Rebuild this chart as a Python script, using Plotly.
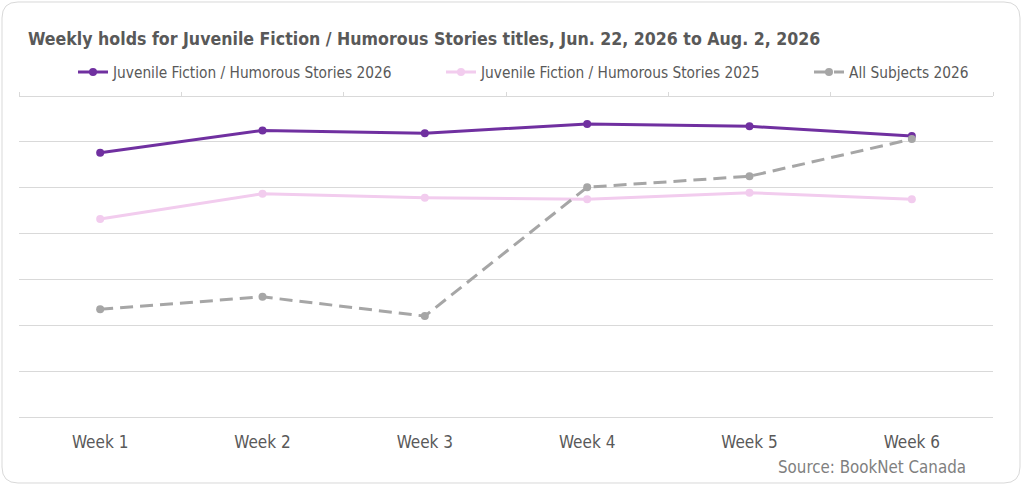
import plotly.graph_objects as go

weeks = ["Week 1", "Week 2", "Week 3", "Week 4", "Week 5", "Week 6"]
humorous_2026 = [5.76, 6.25, 6.19, 6.39, 6.34, 6.13]
humorous_2025 = [4.32, 4.87, 4.78, 4.75, 4.89, 4.75]
all_subjects_2026 = [2.35, 2.62, 2.20, 5.01, 5.25, 6.06]

W, H = 1024, 486
UNIT = 321 / 7          # px per gridline step
PAD = 2                 # keep edge gridlines from being clipped
ML, MR, MT, MB = 19, 31, 96 - PAD, 69 - PAD
PW, PH = W - ML - MR, H - MT - MB
YPAD = PAD / UNIT

FONT = "Liberation Sans Narrow, DejaVu Sans Condensed, Roboto, sans-serif"
TXT = "#595959"
GRID = "#D9D9D9"


def px(x, y):
    # pixel -> paper coordinates
    return (x - ML) / PW, (H - MB - y) / PH


def rounded_box(x0, y0, x1, y1, r):
    pts = [
        ("M", x0 + r, y0), ("L", x1 - r, y0), ("Q", x1, y0, x1, y0 + r),
        ("L", x1, y1 - r), ("Q", x1, y1, x1 - r, y1), ("L", x0 + r, y1),
        ("Q", x0, y1, x0, y1 - r), ("L", x0, y0 + r), ("Q", x0, y0, x0 + r, y0),
    ]
    out = []
    for p in pts:
        cmd, vals = p[0], p[1:]
        coords = []
        for i in range(0, len(vals), 2):
            a, b = px(vals[i], vals[i + 1])
            coords.append(f"{a:.5f},{b:.5f}")
        out.append(cmd + " ".join(coords))
    return " ".join(out) + " Z"


def legend_at(x_px):
    return dict(
        orientation="h", x=px(x_px, 0)[0], xanchor="left",
        y=px(0, 72)[1], yanchor="middle",
        font=dict(family=FONT, size=15.3, color=TXT),
        bgcolor="rgba(0,0,0,0)",
    )


fig = go.Figure()

fig.add_trace(go.Scatter(
    x=weeks, y=humorous_2026, mode="lines+markers",
    name="Juvenile Fiction / Humorous Stories 2026", legend="legend",
    line=dict(color="#7030A0", width=3), marker=dict(size=8, color="#7030A0"),
))
fig.add_trace(go.Scatter(
    x=weeks, y=humorous_2025, mode="lines+markers",
    name="Juvenile Fiction / Humorous Stories 2025", legend="legend2",
    line=dict(color="#F2CCEE", width=3), marker=dict(size=8, color="#F2CCEE"),
))
fig.add_trace(go.Scatter(
    x=weeks, y=all_subjects_2026, mode="lines+markers",
    name="All Subjects 2026", legend="legend3",
    line=dict(color="#A6A6A6", width=3, dash="13px,7px"), marker=dict(size=8, color="#A6A6A6"),
))
# empty trace so the top category-boundary axis gets drawn
fig.add_trace(go.Scatter(x=[], y=[], xaxis="x2", showlegend=False, hoverinfo="skip"))

fig.update_layout(
    width=W, height=H,
    margin=dict(l=ML, r=MR, t=MT, b=MB),
    paper_bgcolor="white", plot_bgcolor="white",
    font=dict(family=FONT, color=TXT, size=16),
    title=dict(
        text="<b>Weekly holds for Juvenile Fiction / Humorous Stories titles, Jun. 22, 2026 to Aug. 2, 2026</b>",
        xref="container", yref="container", x=28 / W, xanchor="left",
        y=1 - 39 / H, yanchor="middle",
        font=dict(family=FONT, size=17.6, color=TXT),
    ),
    legend=legend_at(73),
    legend2=legend_at(441),
    legend3=legend_at(809),
    showlegend=True,
    xaxis=dict(
        range=[-0.5, 5.5], showgrid=False, zeroline=False, showline=False,
        ticks="outside", ticklen=8, tickcolor="rgba(0,0,0,0)",
        tickfont=dict(family=FONT, size=17, color=TXT),
    ),
    xaxis2=dict(
        overlaying="x", side="top", anchor="free", position=1 - PAD / PH,
        range=[-0.5, 5.5],
        tickmode="array", tickvals=[-0.5, 0.5, 1.5, 2.5, 3.5, 4.5, 5.5],
        ticks="outside", ticklen=4, tickcolor=GRID, tickwidth=1,
        showticklabels=False, showline=True, linecolor=GRID, linewidth=1,
        showgrid=False, zeroline=False,
    ),
    yaxis=dict(
        range=[-YPAD, 7 + YPAD], tickmode="linear", tick0=0, dtick=1,
        showticklabels=False, ticks="",
        showgrid=True, gridcolor=GRID, gridwidth=1,
        zeroline=False, showline=False,
    ),
    shapes=[dict(
        type="path", xref="paper", yref="paper",
        path=rounded_box(2, 2, 1020, 483, 16),
        line=dict(color=GRID, width=1), layer="below",
    )],
    annotations=[dict(
        text="Source: BookNet Canada", xref="paper", yref="paper",
        x=px(968, 0)[0], xanchor="right", y=px(0, 467)[1], yanchor="middle",
        showarrow=False, font=dict(family=FONT, size=16.8, color="#7F7F7F"),
    )],
)

fig.write_html("out.html", config={"displayModeBar": False},
               post_script="document.body.style.margin='0';")
